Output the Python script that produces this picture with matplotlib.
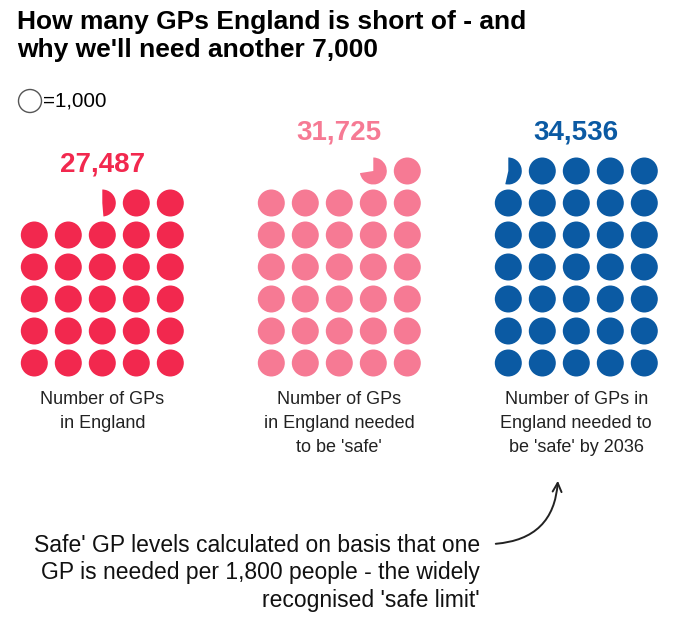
import numpy as np
import matplotlib.pyplot as plt
from matplotlib.patches import Circle, Wedge

plt.rcParams['font.family'] = ['Liberation Sans', 'DejaVu Sans']

# data
values = [27487, 31725, 34536]
value_labels = ['27,487', '31,725', '34,536']
captions = [['Number of GPs', 'in England'],
            ['Number of GPs', 'in England needed', "to be 'safe'"],
            ['Number of GPs in', 'England needed to', "be 'safe' by 2036"]]
colors = ['#F2284E', '#F67A94', '#0B5AA3']
unit = 1000

W, H = 680, 636

def Y(py):
    # pixel row (from top) -> axis y (up)
    return H - py

# layout
ncols = 5
x0 = 34.3
group_gap = 237
col_gap = 34
row_gap = 32
base_py = 363
r = 13.5

fig = plt.figure(figsize=(6.8, 6.36), dpi=100)
ax = fig.add_axes([0, 0, 1, 1])
ax.set_xlim(0, W)
ax.set_ylim(0, H)
ax.axis('off')

for g, (v, lab, cap, c) in enumerate(zip(values, value_labels, captions, colors)):
    gx = x0 + g * group_gap
    n = v // unit
    frac = (v % unit) / unit
    full_rows = n // ncols
    rem = n % ncols
    for i in range(n):
        row = i // ncols
        if row < full_rows:
            col = i % ncols
        else:
            col = ncols - rem + (i - full_rows * ncols)
        ax.add_patch(Circle((gx + col * col_gap, Y(base_py - row * row_gap)), r, color=c, lw=0))
    top_py = base_py - full_rows * row_gap
    pcol = ncols - rem - 1
    if frac > 0:
        # filled clockwise from 12 o'clock
        ax.add_patch(Wedge((gx + pcol * col_gap, Y(top_py)), r, 90 - 360 * frac, 90, color=c, lw=0))
    cx = gx + 2 * col_gap
    ax.text(cx, Y(top_py - 39), lab, color=c, fontsize=20, fontweight='bold', ha='center', va='center')
    for k, line in enumerate(cap):
        ax.text(cx, Y(399 + k * 24), line, color='#222222', fontsize=13, ha='center', va='center')

# title
ax.text(17, Y(22), 'How many GPs England is short of - and', fontsize=19, fontweight='bold', va='center')
ax.text(17, Y(50), "why we'll need another 7,000", fontsize=19, fontweight='bold', va='center')

# key
ax.add_patch(Circle((30, Y(101)), 11.5, fill=False, ec='#555555', lw=1))
ax.text(43, Y(101), '=1,000', fontsize=14.8, va='center')

# note
note = ["Safe' GP levels calculated on basis that one",
        'GP is needed per 1,800 people - the widely',
        "recognised 'safe limit'"]
for k, line in enumerate(note):
    ax.text(480, Y(545 + k * 28), line, fontsize=16.5, ha='right', va='center', color='#111111')

ax.annotate('', xy=(558, Y(478)), xytext=(493, Y(544)),
            arrowprops=dict(arrowstyle='->', connectionstyle='arc3,rad=0.45',
                            lw=1.4, color='#222222', mutation_scale=16))

fig.savefig('out.png', dpi=100)
